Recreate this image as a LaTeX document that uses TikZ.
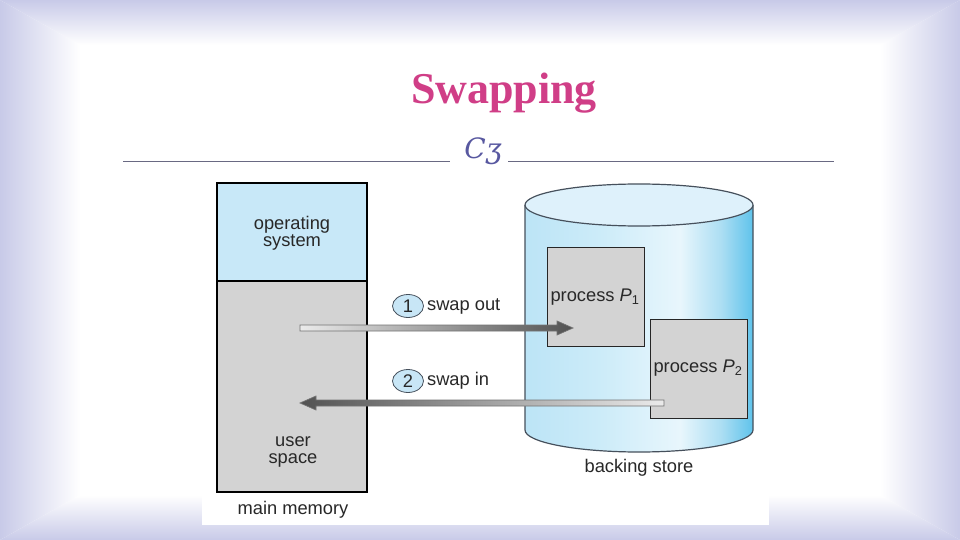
\documentclass[tikz,border=0pt]{standalone}
\usepackage{fontspec}
\setmainfont{Liberation Sans}
\newfontfamily\titlefont{Liberation Serif}
\newfontfamily\ornfont{DejaVu Serif}
\usetikzlibrary{shapes.geometric,calc}
\definecolor{lav}{RGB}{200,202,232}
\definecolor{titlepink}{RGB}{208,62,135}
\definecolor{ornblue}{RGB}{88,88,160}
\definecolor{sepgray}{RGB}{105,105,130}
\definecolor{osblue}{RGB}{200,232,248}
\definecolor{usergray}{RGB}{211,211,211}
\definecolor{txtgray}{RGB}{40,40,40}
\definecolor{cylA}{RGB}{188,228,246}
\definecolor{cylB}{RGB}{205,236,249}
\definecolor{cylC}{RGB}{232,246,252}
\definecolor{cylD}{RGB}{172,222,243}
\definecolor{cylE}{RGB}{95,195,235}
\definecolor{cyltop}{RGB}{222,241,251}
\definecolor{cylline}{RGB}{70,80,92}
\definecolor{numblue}{RGB}{200,230,246}
\pgfdeclarehorizontalshading{cylshade}{100bp}{color(0bp)=(cylA); color(25bp)=(cylA); color(42bp)=(cylB); color(59bp)=(cylC); color(68bp)=(cylD); color(75bp)=(cylE); color(100bp)=(cylE)}
\tikzset{
  lbl/.style={text=txtgray, font=\fontsize{18.3}{17}\selectfont, align=center, inner sep=0pt},
  membox/.style={draw=black, line width=1.2pt, inner sep=0pt},
  procbox/.style={draw=black!85, line width=0.9pt, fill=usergray, minimum width=97pt, minimum height=99pt, inner sep=0pt},
  numoval/.style={ellipse, draw=cylline, line width=0.8pt, fill=numblue, minimum width=31pt, minimum height=23pt, inner sep=0pt, text=txtgray, font=\fontsize{18.3}{17}\selectfont},
  arrowline/.style={draw=black!55, line width=0.7pt},
  sepline/.style={draw=sepgray, line width=1pt}
}
\begin{document}
\begin{tikzpicture}[x=1pt,y=-1pt]
\useasboundingbox (0,0) rectangle (960,540);
% background frame
\fill[white] (0,0) rectangle (960,540);
\shade[left color=lav, right color=white] (0,0) -- (80,45) -- (80,495) -- (0,540) -- cycle;
\shade[right color=lav, left color=white] (960,0) -- (880,45) -- (880,495) -- (960,540) -- cycle;
\shade[top color=lav, bottom color=white] (0,0) -- (960,0) -- (880,45) -- (80,45) -- cycle;
\shade[bottom color=lav, top color=white] (0,540) -- (960,540) -- (880,495) -- (80,495) -- cycle;
% picture area
\fill[white] (202,176) rectangle (769,525);
% title
\node[font=\titlefont\bfseries\fontsize{44}{50}\selectfont, text=titlepink, anchor=base, inner sep=0pt] (title) at (504,104) {Swapping};
\node[font=\ornfont\itshape\fontsize{28}{28}\selectfont, text=ornblue, inner sep=0pt] (orn) at (483,151) {Cʒ};
\draw[sepline] (123,162) -- (450,162);
\draw[sepline] (508,162) -- (834,162);
% main memory
\node[membox, fill=osblue, minimum width=150pt, minimum height=98pt] (os) at (292,232) {};
\node[membox, fill=usergray, minimum width=150pt, minimum height=211pt] (user) at (292,386.5) {};
\node[lbl] (ostxt) at (292,233) {operating\\system};
\node[lbl] (usertxt) at (293,452) {user\\space};
\node[lbl] (mmtxt) at (293,510) {main memory};
% backing store cylinder
\shade[shading=cylshade] (525,205) -- (525,430) arc[start angle=180, end angle=360, x radius=114pt, y radius=22pt] -- (753,205) -- cycle;
\draw[draw=cylline, line width=1.2pt] (525,205) -- (525,430) arc[start angle=180, end angle=360, x radius=114pt, y radius=22pt] -- (753,205);
\draw[draw=cylline, line width=1.2pt, fill=cyltop] (639,205) ellipse[x radius=114pt, y radius=21pt];
\node[lbl] (bstxt) at (639,468) {backing store};
% processes
\node[procbox] (p1) at (595.5,296.5) {};
\node[procbox] (p2) at (699,369) {};
\node[lbl] (p1txt) at (595,297) {process \textit{P}\textsubscript{1}};
\node[lbl] (p2txt) at (698,368) {process \textit{P}\textsubscript{2}};
% arrows
\coordinate (a1s) at (300,328);
\coordinate (a1e) at (573,328);
\shade[left color=black!8, right color=black!68, arrowline]
  ($(a1s)+(0,-3)$) -- ($(a1e)+(-16,-3)$) -- ($(a1e)+(-16,-7)$) -- (a1e) -- ($(a1e)+(-16,7)$) -- ($(a1e)+(-16,3)$) -- ($(a1s)+(0,3)$) -- cycle;
\coordinate (a2s) at (664,403);
\coordinate (a2e) at (300,403);
\shade[right color=black!8, left color=black!68, arrowline]
  ($(a2s)+(0,-3)$) -- ($(a2e)+(16,-3)$) -- ($(a2e)+(16,-7)$) -- (a2e) -- ($(a2e)+(16,7)$) -- ($(a2e)+(16,3)$) -- ($(a2s)+(0,3)$) -- cycle;
% labels of arrows
\node[numoval] (n1) at (408,306) {1};
\node[lbl, anchor=west] (so) at ($(n1.east)+(3,0)$) {swap out};
\node[numoval] (n2) at (408,381) {2};
\node[lbl, anchor=west] (si) at ($(n2.east)+(3,0)$) {swap in};
\end{tikzpicture}
\end{document}
